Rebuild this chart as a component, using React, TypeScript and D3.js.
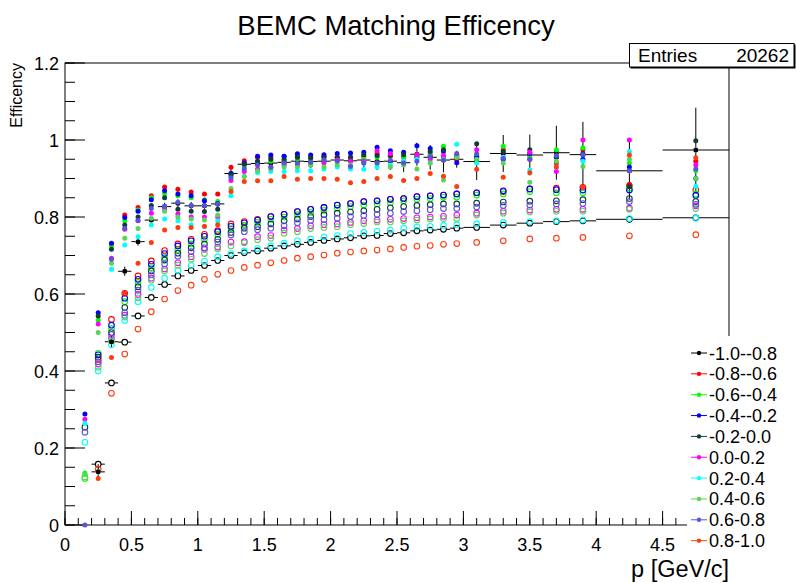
import React, { useEffect } from "react";
import * as d3 from "d3";

// ---------- data ----------
const binEdges = [0.1,0.2,0.3,0.4,0.5,0.6,0.7,0.8,0.9,1.0,1.1,1.2,1.3,1.4,1.5,1.6,1.7,1.8,1.9,2.0,2.1,2.2,2.3,2.4,2.5,2.6,2.7,2.8,2.9,3.0,3.2,3.4,3.6,3.8,4.0,4.5,5.0];

const legendLabels = ["-1.0--0.8","-0.8--0.6","-0.6--0.4","-0.4--0.2","-0.2-0.0","0.0-0.2","0.2-0.4","0.4-0.6","0.6-0.8","0.8-1.0"];
const seriesColors = ["#000000","#ff0000","#00ff00","#0000ff","#123c3c","#ff00ff","#00ffff","#59d454","#5954d9","#ff3c10"];

type V = number | null;
// filled markers (one per eta bin)
const fBk: V[] = [null,0.138,0.476,0.659,0.736,0.792,0.827,0.836,0.829,0.829,0.834,0.913,0.937,0.939,0.940,0.942,0.945,0.944,0.945,0.948,0.946,0.948,0.944,0.945,0.941,0.963,0.955,0.948,0.950,0.944,0.965,0.961,0.967,0.962,0.920,0.974];
const fBkErr: number[] = [0,0.02,0.015,0.012,0.01,0.01,0.01,0.01,0.01,0.01,0.012,0.012,0.012,0.013,0.014,0.015,0.016,0.017,0.018,0.019,0.02,0.021,0.022,0.023,0.024,0.03,0.032,0.032,0.022,0.048,0.048,0.053,0.07,0.085,0.075,0.11];
const fR: V[] = [null,null,0.730,0.805,0.825,0.855,0.878,0.872,0.865,0.860,0.860,0.929,0.946,0.955,0.955,0.957,0.957,0.955,0.958,0.955,0.955,0.958,0.965,0.958,0.955,0.962,0.960,0.955,0.950,0.958,0.975,0.950,0.940,0.975,0.885,0.945];
const fG: V[] = [0.135,0.532,0.725,0.790,0.818,0.850,0.860,0.855,0.850,0.845,0.840,0.905,0.930,0.945,0.945,0.950,0.950,0.948,0.950,0.952,0.955,0.952,0.955,0.960,0.955,0.960,0.965,0.984,0.955,0.960,0.984,0.955,0.975,0.980,0.940,0.920];
const fB: V[] = [0.288,0.551,0.732,0.799,0.815,0.845,0.868,0.860,0.855,0.842,0.835,0.913,0.940,0.958,0.961,0.958,0.964,0.961,0.962,0.965,0.966,0.968,0.981,0.972,0.968,0.985,0.978,0.970,0.941,0.955,0.950,0.965,0.955,0.950,0.930,0.900];
const fDt: V[] = [null,0.543,0.716,0.779,0.800,0.830,0.850,0.820,0.815,0.814,0.820,0.910,0.937,0.945,0.950,0.948,0.955,0.953,0.955,0.955,0.955,0.962,0.960,0.960,0.962,0.955,0.970,0.975,0.960,0.990,0.970,0.975,0.955,0.965,0.879,0.998];
const fM: V[] = [0.275,0.522,0.693,0.768,0.790,0.810,0.820,0.808,0.800,0.800,0.800,0.895,0.918,0.925,0.930,0.935,0.935,0.935,0.940,0.948,0.945,0.945,0.972,0.965,0.945,0.962,0.950,0.960,0.960,0.975,0.955,0.968,0.918,1.000,1.000,0.935];
const fC: V[] = [0.264,null,0.664,0.727,0.749,0.779,0.795,0.790,0.780,0.775,0.790,0.855,0.905,0.915,0.918,0.918,0.920,0.920,0.925,0.930,0.925,0.924,0.930,0.935,0.945,0.950,0.940,0.950,0.989,0.940,0.955,0.922,0.930,0.945,0.970,0.880];
const fLg: V[] = [0.132,0.500,0.680,0.745,0.770,0.797,0.815,0.800,0.795,0.792,0.805,0.874,0.905,0.920,0.925,0.930,0.930,0.935,0.930,0.935,0.935,0.940,0.940,0.930,0.935,0.925,0.940,0.896,0.955,0.950,0.940,0.890,0.945,0.931,0.950,0.900];
const fPu: V[] = [0,null,0.690,0.770,0.791,0.822,0.828,0.838,0.830,0.830,0.834,0.902,0.925,0.935,0.929,0.940,0.940,0.942,0.948,0.945,0.931,0.940,0.940,0.947,0.940,0.945,0.957,0.948,0.965,0.964,0.952,0.950,0.960,0.962,0.920,0.925];
const fOr: V[] = [null,0.121,0.435,0.602,0.680,0.734,0.766,0.773,0.773,0.776,0.780,0.866,0.892,0.894,0.894,0.905,0.898,0.900,0.900,0.898,0.889,0.892,0.900,0.905,0.895,0.900,0.913,0.906,0.879,0.924,0.903,0.915,0.930,0.877,0.961,0.954];

// open markers (one per eta bin)
const oBk: V[] = [null,0.158,0.369,0.475,0.543,0.591,0.625,0.647,0.661,0.674,0.687,0.700,0.707,0.712,0.719,0.725,0.729,0.734,0.739,0.743,0.746,0.751,0.752,0.757,0.759,0.764,0.766,0.768,0.771,0.773,0.779,0.784,0.788,0.790,0.794,0.798];
const oBkErr: number[] = [0,0.006,0.005,0.004,0.004,0.003,0.003,0.003,0.003,0.003,0.003,0.003,0.003,0.003,0.003,0.003,0.003,0.003,0.003,0.003,0.003,0.003,0.003,0.003,0.003,0.003,0.003,0.003,0.003,0.003,0.003,0.004,0.004,0.004,0.004,0.005];
const oR: V[] = [null,0.430,0.534,0.602,0.647,0.686,0.713,0.730,0.742,0.755,0.765,0.782,0.788,0.794,0.801,0.807,0.814,0.820,0.825,0.831,0.835,0.840,0.842,0.846,0.848,0.853,0.855,0.857,0.860,0.863,0.866,0.873,0.875,0.877,0.881,0.870];
const oG: V[] = [0.121,0.446,0.510,0.580,0.630,0.668,0.695,0.715,0.730,0.742,0.755,0.770,0.779,0.786,0.794,0.800,0.806,0.812,0.817,0.823,0.827,0.831,0.834,0.837,0.842,0.846,0.848,0.851,0.852,0.857,0.860,0.866,0.863,0.863,0.875,0.860];
const oB: V[] = [null,0.442,0.519,0.589,0.638,0.677,0.705,0.725,0.738,0.750,0.762,0.776,0.785,0.792,0.801,0.807,0.814,0.820,0.825,0.831,0.835,0.840,0.842,0.846,0.848,0.853,0.855,0.857,0.860,0.863,0.868,0.873,0.871,0.870,0.870,0.856];
const oDt: V[] = [0.254,0.436,0.500,0.565,0.619,0.660,0.688,0.706,0.720,0.730,0.742,0.760,0.771,0.775,0.782,0.790,0.795,0.801,0.806,0.810,0.813,0.816,0.820,0.824,0.827,0.830,0.832,0.834,0.834,0.836,0.839,0.841,0.842,0.845,0.848,0.840];
const oM: V[] = [null,0.418,0.485,0.545,0.599,0.641,0.665,0.681,0.697,0.716,0.722,0.735,0.736,0.749,0.752,0.766,0.770,0.777,0.780,0.782,0.786,0.790,0.792,0.794,0.796,0.798,0.800,0.802,0.805,0.810,0.815,0.818,0.820,0.820,0.823,0.829];
const oC: V[] = [0.215,0.400,0.468,0.531,0.580,0.617,0.641,0.661,0.674,0.685,0.697,0.705,0.712,0.718,0.725,0.732,0.738,0.743,0.748,0.752,0.757,0.760,0.763,0.766,0.771,0.774,0.776,0.778,0.780,0.782,0.786,0.788,0.790,0.792,0.796,0.797];
const oLg: V[] = [0.125,0.410,0.478,0.540,0.590,0.636,0.660,0.675,0.690,0.705,0.717,0.725,0.733,0.741,0.745,0.758,0.762,0.770,0.773,0.775,0.780,0.783,0.787,0.787,0.790,0.792,0.795,0.796,0.796,0.805,0.810,0.813,0.815,0.815,0.820,0.822];
const oPu: V[] = [0.241,0.424,0.495,0.551,0.610,0.650,0.678,0.698,0.710,0.720,0.735,0.753,0.762,0.767,0.771,0.777,0.785,0.791,0.793,0.797,0.801,0.804,0.807,0.810,0.814,0.816,0.819,0.822,0.822,0.826,0.830,0.831,0.834,0.835,0.840,0.833];
const oOr: V[] = [null,0.145,0.342,0.444,0.509,0.554,0.587,0.609,0.623,0.638,0.651,0.661,0.669,0.675,0.681,0.687,0.693,0.697,0.701,0.706,0.709,0.712,0.714,0.717,0.721,0.724,0.726,0.729,0.731,0.734,0.738,0.743,0.745,0.747,0.751,0.754];

const filledSeries = [fBk, fR, fG, fB, fDt, fM, fC, fLg, fPu, fOr];
const openSeries = [oBk, oR, oG, oB, oDt, oM, oC, oLg, oPu, oOr];

const titleText = "BEMC Matching Efficency";
const xTitle = "p [GeV/c]";
const yTitle = "Efficency";
const statsLabel = "Entries";
const statsValue = "20262";

// ---------- layout ----------
const W = 796, H = 583;
const FONT = "'Liberation Sans', Arial, Helvetica, sans-serif";

const xs = d3.scaleLinear().domain([0, 5]).range([65, 729]);
const ys = d3.scaleLinear().domain([0, 1.2]).range([525, 63]);

const centers = binEdges.slice(0, -1).map((e, i) => (e + binEdges[i + 1]) / 2);

const fmt = (v: number) => String(+v.toFixed(2));

function ErrBars({ vals, errs, color, r }: { vals: V[]; errs: number[]; color: string; r: number }) {
  return (
    <g stroke={color} strokeWidth={1} fill="none">
      {vals.map((v, i) => {
        if (v == null) return null;
        const cx = xs(centers[i]);
        const cy = ys(v);
        const x0 = xs(binEdges[i]);
        const x1 = xs(binEdges[i + 1]);
        const yt = ys(v + errs[i]);
        const yb = ys(v - errs[i]);
        return (
          <g key={i}>
            {cx - r > x0 && <line x1={x0} x2={cx - r} y1={cy} y2={cy} />}
            {x1 > cx + r && <line x1={cx + r} x2={x1} y1={cy} y2={cy} />}
            {cy - r > yt && <line x1={cx} x2={cx} y1={yt} y2={cy - r} />}
            {yb > cy + r && <line x1={cx} x2={cx} y1={cy + r} y2={yb} />}
          </g>
        );
      })}
    </g>
  );
}

export default function App() {
  useEffect(() => {
    document.body.style.margin = "0";
  }, []);

  const xMajor = xs.ticks(10);
  const xMinor = xs.ticks(50);
  const yMajor = ys.ticks(6);
  const yMinor = ys.ticks(24);

  const [x0, x1] = xs.range();
  const [y0, y1] = ys.range();

  const rF = 2.5;
  const rO = 2.8;

  return (
    <svg width={W} height={H} style={{ position: "absolute", left: 0, top: 0, background: "#fff" }} fontFamily={FONT}>
      <rect x={0} y={0} width={W} height={H} fill="#fff" />

      {/* frame */}
      <rect x={x0} y={y1} width={x1 - x0} height={y0 - y1} fill="none" stroke="#000" strokeWidth={1} />

      {/* ticks */}
      <g stroke="#000" strokeWidth={1}>
        {xMinor.map((t, i) => (
          <line key={"xm" + i} x1={xs(t)} x2={xs(t)} y1={y0} y2={y0 - 7} />
        ))}
        {xMajor.map((t, i) => (
          <line key={"xM" + i} x1={xs(t)} x2={xs(t)} y1={y0} y2={y0 - 14} />
        ))}
        {yMinor.map((t, i) => (
          <line key={"ym" + i} x1={x0} x2={x0 + 10} y1={ys(t)} y2={ys(t)} />
        ))}
        {yMajor.map((t, i) => (
          <line key={"yM" + i} x1={x0} x2={x0 + 20} y1={ys(t)} y2={ys(t)} />
        ))}
      </g>

      {/* tick labels */}
      <g fontSize={18} fill="#000">
        {xMajor.filter((t) => t < 5).map((t, i) => (
          <text key={"xl" + i} x={xs(t)} y={551} textAnchor="middle">{fmt(t)}</text>
        ))}
        {yMajor.map((t, i) => (
          <text key={"yl" + i} x={x0 - 6} y={ys(t) + 6.5} textAnchor="end">{fmt(t)}</text>
        ))}
      </g>

      {/* axis titles */}
      <text x={729} y={577} fontSize={23.5} textAnchor="end">{xTitle}</text>
      <text transform={`translate(22,63) rotate(-90)`} fontSize={16} textAnchor="end">{yTitle}</text>

      {/* title */}
      <text x={396} y={35} fontSize={27.5} textAnchor="middle">{titleText}</text>

      {/* error bars of the black series */}
      <ErrBars vals={fBk} errs={fBkErr} color="#000" r={rF} />
      <ErrBars vals={oBk} errs={oBkErr} color="#000" r={rO} />

      {/* open markers */}
      {openSeries.map((s, k) => (
        <g key={"o" + k} fill="none" stroke={seriesColors[k]} strokeWidth={1.1}>
          {s.map((v, i) => v == null ? null : (
            <circle key={i} cx={xs(centers[i])} cy={ys(v)} r={rO} />
          ))}
        </g>
      ))}

      {/* filled markers */}
      {filledSeries.map((s, k) => (
        <g key={"f" + k} fill={seriesColors[k]} stroke="none">
          {s.map((v, i) => v == null ? null : (
            <circle key={i} cx={xs(centers[i])} cy={ys(v)} r={rF} />
          ))}
        </g>
      ))}

      {/* stats box */}
      <rect x={630.5} y={44.5} width={165} height={24} fill="#000" />
      <rect x={629.5} y={43.5} width={164.5} height={23.5} fill="#fff" stroke="#000" strokeWidth={1} />
      <text x={638} y={62} fontSize={19}>{statsLabel}</text>
      <text x={789} y={62} fontSize={19} textAnchor="end">{statsValue}</text>

      {/* legend (white box without border, covers the frame corner) */}
      <g>
        <rect x={687} y={336} width={109} height={216} fill="#fff" />
        {legendLabels.map((lab, i) => {
          const yy = 353 + i * 20.85;
          return (
            <g key={"lg" + i}>
              <line x1={691} x2={707} y1={yy} y2={yy} stroke={seriesColors[i]} strokeWidth={1} />
              <circle cx={699} cy={yy} r={2.2} fill={seriesColors[i]} />
              <text x={709} y={yy + 6.5} fontSize={18}>{lab}</text>
            </g>
          );
        })}
      </g>
    </svg>
  );
}
